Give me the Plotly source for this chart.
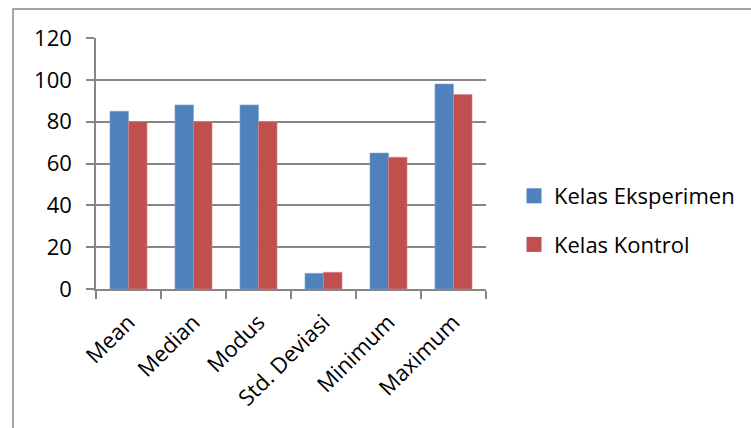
import plotly.graph_objects as go

categories = ["Mean", "Median", "Modus", "Std. Deviasi", "Minimum", "Maximum"]
eksperimen = [85, 88, 88, 7.5, 65, 98]
kontrol = [80, 80, 80, 8, 63, 93]
y_ticks = [0, 20, 40, 60, 80, 100, 120]

W, H = 751, 428
L, R, T, B = 96, 265, 38, 139
pw, ph = W - L - R, H - T - B

def px_x(p):
    return (p - L) / pw

def px_y(p):
    return (H - B - p) / ph

BLUE, RED = "#4F81BD", "#C0504D"

fig = go.Figure()
fig.add_trace(go.Bar(name="Kelas Eksperimen", x=categories, y=eksperimen,
                     marker=dict(color=BLUE, line=dict(color="#7FA3D3", width=0.6)),
                     showlegend=False))
fig.add_trace(go.Bar(name="Kelas Kontrol", x=categories, y=kontrol,
                     marker=dict(color=RED, line=dict(color="#D98583", width=0.6)),
                     showlegend=False))
# legend entries with square keys
for name, col, grp in [("Kelas Eksperimen", BLUE, "a"), ("Kelas Kontrol", RED, "b")]:
    fig.add_trace(go.Scatter(name=name, x=[None], y=[None], mode="markers",
                             marker=dict(symbol="square", size=15, color=col),
                             legendgroup=grp, showlegend=True))

font = "Open Sans, Lato, sans-serif"
fig.update_layout(
    width=W, height=H,
    margin=dict(l=L, r=R, t=T, b=B, autoexpand=False),
    paper_bgcolor="white", plot_bgcolor="white",
    barmode="group", bargap=0.43, bargroupgap=0,
    font=dict(family=font, size=22, color="#000000"),
    xaxis=dict(type="category", showline=True, linecolor="#868686", linewidth=1.5,
               ticks="outside", tickson="boundaries", ticklen=8, tickcolor="#868686",
               tickwidth=1.5, tickangle=-45, tickfont=dict(size=22),
               ticklabelstandoff=10, showgrid=False, zeroline=False),
    yaxis=dict(range=[0, 120], tickvals=y_ticks, showline=True, linecolor="#868686",
               linewidth=1.5, ticks="outside", ticklen=8, tickcolor="#868686", tickwidth=1.5,
               showgrid=True, gridcolor="#868686", gridwidth=1.5, zeroline=False,
               tickfont=dict(size=22), ticklabelstandoff=10),
    legend=dict(x=px_x(514), y=px_y(175), xanchor="left", yanchor="top",
                tracegroupgap=17, font=dict(size=22), itemwidth=30),
    showlegend=True,
)

# chart frame
fig.add_shape(type="rect", xref="paper", yref="paper",
              x0=px_x(13), x1=px_x(W + 20), y0=px_y(H + 20), y1=px_y(9),
              line=dict(color="#868686", width=1.5), fillcolor="rgba(0,0,0,0)", layer="below")

fig.write_html("out.html")
